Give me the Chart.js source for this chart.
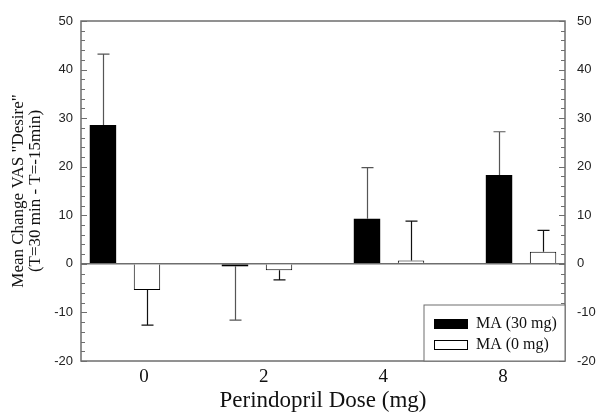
<!DOCTYPE html>
<html>
<head>
<meta charset="utf-8">
<script src="https://cdn.jsdelivr.net/npm/chart.js"></script>
<style>
  body { margin: 0; background: #fff; }
  #wrap { width: 600px; height: 415px; position: relative; }
</style>
</head>
<body>
<div id="wrap"><canvas id="desireChart"></canvas></div>
<script>
// perindopril dose groups (mg)
var doseLabels = ['0', '2', '4', '8'];
var ma30 = [28.6, -0.5, 9.3, 18.3];
var ma30Err = [14.6, 11.1, 10.5, 8.9];
var ma0 = [-5.4, -1.3, 0.7, 2.5];
var ma0Err = [7.2, 2.0, 8.1, 4.4];
var yTicks = [-20, -10, 0, 10, 20, 30, 40, 50];

var serif = '"Liberation Serif", "Times New Roman", serif';
var sans = '"Liberation Sans", Arial, sans-serif';

function points(vals) {
    return vals.map(function (v, i) { return { x: i, y: v }; });
}

function groupTicks(s) {
    s.ticks = doseLabels.map(function (_, i) { return { value: i }; });
}

// frame, inward ticks, error bars, legend box
var extras = {
    id: 'extras',
    afterDatasetsDraw: function (chart) {
        var ctx = chart.ctx, a = chart.chartArea, ys = chart.scales.y;
        ctx.save();
        chart.data.datasets.forEach(function (ds, di) {
            var meta = chart.getDatasetMeta(di);
            ctx.strokeStyle = ds.errColor;
            ctx.lineWidth = 1.2;
            meta.data.forEach(function (bar, i) {
                var v = ds.data[i].y, e = ds.err[i];
                var end = ys.getPixelForValue(v >= 0 ? v + e : v - e);
                var x = Math.round(bar.x) + 0.5;
                ctx.beginPath();
                ctx.moveTo(x, bar.y);
                ctx.lineTo(x, end);
                ctx.moveTo(x - 6, end);
                ctx.lineTo(x + 6, end);
                ctx.stroke();
            });
        });
        // frame
        ctx.strokeStyle = '#6e6e6e';
        ctx.lineWidth = 1.5;
        ctx.strokeRect(a.left, a.top, a.right - a.left, a.bottom - a.top);
        // tick marks pointing inside
        ctx.lineWidth = 1;
        for (var v = ys.min; v <= ys.max; v += 2) {
            var py = Math.round(ys.getPixelForValue(v)) + 0.5;
            var len = (v % 10 === 0) ? 6 : 4;
            ctx.beginPath();
            ctx.moveTo(a.left, py); ctx.lineTo(a.left + len, py);
            ctx.moveTo(a.right, py); ctx.lineTo(a.right - len, py);
            ctx.stroke();
        }
        // legend
        var w = 141, h = 56, lx = a.right - w, ly = a.bottom - h;
        ctx.fillStyle = '#fff';
        ctx.fillRect(lx, ly, w, h);
        ctx.strokeStyle = '#6e6e6e';
        ctx.strokeRect(lx, ly, w, h);
        ctx.font = '16px ' + serif;
        ctx.textBaseline = 'middle';
        chart.data.datasets.forEach(function (ds, di) {
            var cy = ly + 19 + di * 21;
            ctx.fillStyle = ds.backgroundColor;
            ctx.fillRect(lx + 10, cy - 5, 34, 10);
            ctx.strokeStyle = '#000';
            ctx.lineWidth = 1;
            ctx.strokeRect(lx + 10.5, cy - 4.5, 33, 9);
            ctx.fillStyle = '#111';
            ctx.fillText(ds.label, lx + 52, cy);
        });
        ctx.restore();
    }
};

var ctx = document.getElementById('desireChart').getContext('2d');
var desireChart = new Chart(ctx, {
    type: 'bar',
    data: {
        datasets: [{
            label: 'MA (30 mg)',
            data: points(ma30),
            err: ma30Err,
            errColor: '#555',
            backgroundColor: '#000',
            borderColor: '#000',
            borderWidth: 0
        }, {
            label: 'MA (0 mg)',
            data: points(ma0),
            err: ma0Err,
            errColor: '#111',
            backgroundColor: '#fff',
            borderColor: '#000',
            borderWidth: 1
        }]
    },
    options: {
        responsive: true,
        maintainAspectRatio: false,
        animation: false,
        layout: { padding: { top: 21, left: 10, right: 0, bottom: 0 } },
        datasets: { bar: { categoryPercentage: 0.667, barPercentage: 0.6, grouped: true } },
        plugins: {
            legend: { display: false },
            tooltip: { enabled: false }
        },
        scales: {
            x: {
                type: 'linear',
                min: -0.333,
                max: 3.333,
                offset: false,
                afterBuildTicks: groupTicks,
                display: false
            },
            x2: {
                type: 'linear',
                position: 'bottom',
                min: -0.526,
                max: 3.518,
                offset: false,
                afterBuildTicks: groupTicks,
                afterFit: function (s) { s.height = 54; },
                grid: { display: false, drawTicks: false },
                border: { display: false },
                ticks: {
                    padding: 5,
                    color: '#111',
                    font: { family: serif, size: 19 },
                    callback: function (v, i) { return doseLabels[i]; }
                },
                title: {
                    display: true,
                    text: 'Perindopril Dose (mg)',
                    color: '#111',
                    padding: { top: 0, bottom: 0 },
                    font: { family: serif, size: 23 }
                }
            },
            y: {
                position: 'left',
                min: -20,
                max: 50,
                afterBuildTicks: function (s) {
                    s.ticks = yTicks.map(function (v) { return { value: v }; });
                },
                afterFit: function (s) { s.width = 71; },
                grid: {
                    drawTicks: false,
                    color: function (c) { return c.tick && c.tick.value === 0 ? '#6e6e6e' : 'rgba(0,0,0,0)'; },
                    lineWidth: 1.5
                },
                border: { display: false },
                ticks: { padding: 8, color: '#222', font: { family: sans, size: 13 } },
                title: {
                    display: true,
                    text: ['Mean Change VAS "Desire"', '(T=30 min - T=-15min)'],
                    color: '#111',
                    padding: { top: 0, bottom: 4 },
                    font: { family: serif, size: 17, lineHeight: 1.0 }
                }
            },
            y2: {
                position: 'right',
                min: -20,
                max: 50,
                afterBuildTicks: function (s) {
                    s.ticks = yTicks.map(function (v) { return { value: v }; });
                },
                afterFit: function (s) { s.width = 35; },
                grid: { display: false, drawTicks: false },
                border: { display: false },
                ticks: { padding: 12, color: '#222', font: { family: sans, size: 13 } }
            }
        }
    },
    plugins: [extras]
});
</script>
</body>
</html>
